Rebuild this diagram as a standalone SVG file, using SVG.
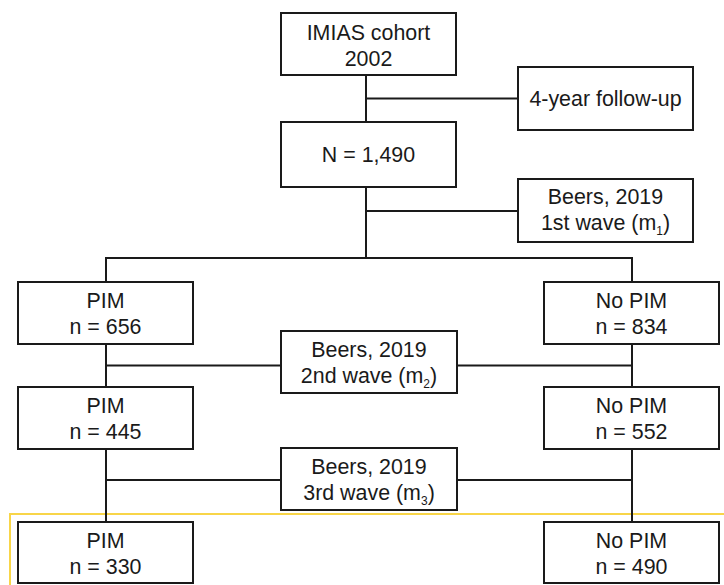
<svg xmlns="http://www.w3.org/2000/svg" width="724" height="585" viewBox="0 0 724 585">
<style>
.box{fill:#fff;stroke:#1a1a1a;stroke-width:2}
.ln{fill:none;stroke:#1a1a1a;stroke-width:2}
text{font-family:"Liberation Sans",Arial,sans-serif;font-size:21.4px;fill:#1a1a1a;text-anchor:middle}
.sub{font-size:12px}
</style>
<rect width="724" height="585" fill="#fff"/>
<polyline points="10,585 10,514 724,514" fill="none" stroke="#f8d548" stroke-width="2"/>
<g id="connectors">
<line class="ln" x1="366" y1="75" x2="366" y2="122"/>
<line class="ln" x1="366" y1="98.5" x2="518" y2="98.5"/>
<line class="ln" x1="366" y1="187" x2="366" y2="258"/>
<line class="ln" x1="366" y1="211" x2="518" y2="211"/>
<polyline class="ln" points="106,282 106,258 632,258 632,282"/>
<line class="ln" x1="106" y1="344" x2="106" y2="387"/>
<line class="ln" x1="632" y1="344" x2="632" y2="387"/>
<line class="ln" x1="106" y1="365.5" x2="281" y2="365.5"/>
<line class="ln" x1="457" y1="365.5" x2="632" y2="365.5"/>
<line class="ln" x1="106" y1="449" x2="106" y2="522"/>
<line class="ln" x1="632" y1="449" x2="632" y2="522"/>
<line class="ln" x1="106" y1="480" x2="281" y2="480"/>
<line class="ln" x1="457" y1="480" x2="632" y2="480"/>
</g>
<g id="imias"><rect class="box" x="281" y="13" width="175" height="62"/><text x="368.5" y="39.5">IMIAS cohort</text><text x="368.5" y="65.5">2002</text></g>
<g id="followup"><rect class="box" x="518" y="67" width="175" height="63"/><text x="605.5" y="106">4-year follow-up</text></g>
<g id="n1490"><rect class="box" x="281" y="122" width="175" height="65"/><text x="368.5" y="162">N = 1,490</text></g>
<g id="beers1"><rect class="box" x="518" y="179" width="175" height="63"/><text x="605.5" y="204">Beers, 2019</text><text x="605.5" y="230">1st wave (m<tspan class="sub" dy="5">1</tspan><tspan dy="-5">)</tspan></text></g>
<g id="pim656"><rect class="box" x="18" y="282" width="175" height="62"/><text x="105.5" y="308">PIM</text><text x="105.5" y="334">n = 656</text></g>
<g id="nopim834"><rect class="box" x="544" y="282" width="175" height="62"/><text x="631.5" y="308">No PIM</text><text x="631.5" y="334">n = 834</text></g>
<g id="beers2"><rect class="box" x="281" y="331" width="176" height="62"/><text x="369" y="357">Beers, 2019</text><text x="369" y="383">2nd wave (m<tspan class="sub" dy="5">2</tspan><tspan dy="-5">)</tspan></text></g>
<g id="pim445"><rect class="box" x="18" y="387" width="175" height="62"/><text x="105.5" y="413">PIM</text><text x="105.5" y="439">n = 445</text></g>
<g id="nopim552"><rect class="box" x="544" y="387" width="175" height="62"/><text x="631.5" y="413">No PIM</text><text x="631.5" y="439">n = 552</text></g>
<g id="beers3"><rect class="box" x="281" y="448" width="176" height="62"/><text x="369" y="474">Beers, 2019</text><text x="369" y="500">3rd wave (m<tspan class="sub" dy="5">3</tspan><tspan dy="-5">)</tspan></text></g>
<g id="pim330"><rect class="box" x="18" y="522" width="175" height="61"/><text x="105.5" y="548">PIM</text><text x="105.5" y="574">n = 330</text></g>
<g id="nopim490"><rect class="box" x="544" y="522" width="175" height="61"/><text x="631.5" y="548">No PIM</text><text x="631.5" y="574">n = 490</text></g>
</svg>
